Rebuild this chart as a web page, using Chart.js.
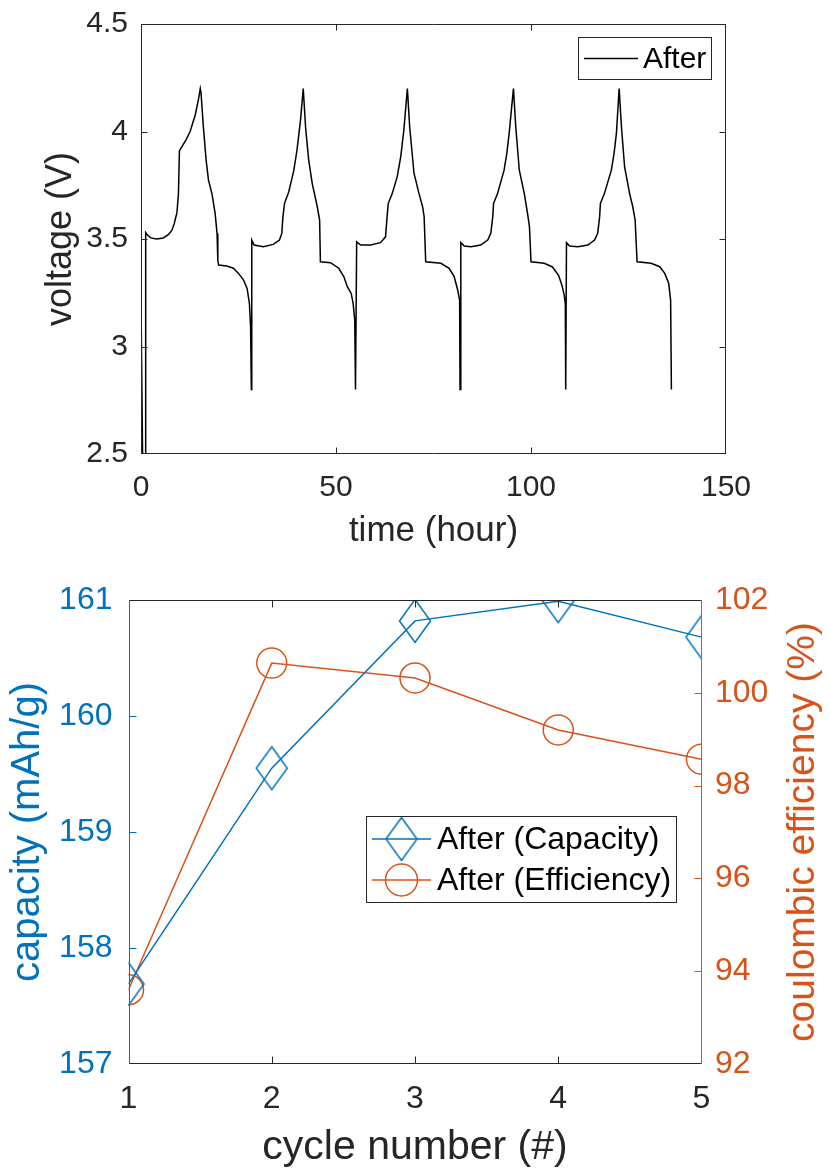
<!DOCTYPE html>
<html>
<head>
<meta charset="utf-8">
<script src="https://cdn.jsdelivr.net/npm/chart.js@4.4.1/dist/chart.umd.min.js"></script>
<style>
  html, body { margin: 0; padding: 0; background: #fff; }
  #wrap { position: relative; width: 830px; height: 1168px; }
  #voltageChart { position: absolute; left: 0; top: 0; }
  #cycleChart { position: absolute; left: 0; top: 560px; }
</style>
</head>
<body>
<div id="wrap">
  <canvas id="voltageChart" width="830" height="560"></canvas>
  <canvas id="cycleChart" width="830" height="608"></canvas>
</div>
<script>
// ---- voltage profile (time in hours, voltage in V) ----
const timeHours = [
  0, 0.4, 1.1, 1.2, 1.6, 2.5, 4.0, 5.7, 7.0, 7.9, 8.5, 8.9, 9.2, 9.6, 9.85, 10.5, 11.5, 12.6, 13.9, 14.7, 15.2,
  15.4, 16.0, 16.7, 17.3, 18.2, 19.0, 19.5, 19.7, 19.9, 22.0, 23.7, 25.0, 26.3, 27.2, 27.8, 28.1, 28.3,
  28.4, 29.0, 31.4, 33.9, 35.5, 36.1, 36.4, 36.8, 37.9, 39.2, 40.0, 40.9, 41.6,
  42.2, 43.0, 43.9, 45.2, 45.8, 46.0, 48.6, 50.7, 52.0, 52.9, 53.9, 54.4, 54.8, 55.0,
  55.3, 56.3, 58.9, 61.4, 62.7, 63.1, 63.4, 64.4, 65.7, 66.6, 67.4, 68.3,
  68.9, 70.0, 71.3, 72.2, 72.6, 73.0, 76.9, 79.0, 80.3, 81.2, 81.7, 81.8,
  82.0, 82.9, 84.6, 87.1, 88.9, 89.7, 90.2, 90.4, 91.4, 93.1, 93.8, 94.4, 95.5,
  96.1, 97.0, 98.3, 99.1, 99.6, 100.0, 103.4, 105.5, 107.1, 108.0, 108.5, 108.8, 108.9,
  109.1, 109.9, 112.0, 114.6, 116.3, 117.1, 117.6, 117.8, 118.8, 120.6, 121.3, 121.9, 122.6,
  123.2, 124.0, 125.3, 126.1, 126.7, 127.2, 130.8, 133.0, 134.3, 135.3, 135.8, 136.0
];
const voltage = [
  3.21, 2.50, 2.50, 3.53, 3.52, 3.505, 3.50, 3.505, 3.52, 3.54, 3.57, 3.60, 3.62, 3.71, 3.91, 3.93, 3.96, 4.00, 4.077, 4.146, 4.20,
  4.178, 4.02, 3.867, 3.774, 3.71, 3.62, 3.526, 3.40, 3.379, 3.374, 3.364, 3.34, 3.309, 3.27, 3.20, 3.092, 2.80,
  3.495, 3.472, 3.464, 3.475, 3.495, 3.526, 3.604, 3.666, 3.72, 3.82, 3.914, 4.053, 4.20,
  4.02, 3.867, 3.759, 3.65, 3.588, 3.394, 3.39, 3.364, 3.325, 3.278, 3.247, 3.20, 3.123, 2.80,
  3.487, 3.472, 3.472, 3.483, 3.51, 3.604, 3.666, 3.71, 3.79, 3.883, 4.007, 4.20,
  4.02, 3.806, 3.71, 3.65, 3.604, 3.394, 3.387, 3.364, 3.325, 3.263, 3.216, 2.80,
  3.483, 3.467, 3.464, 3.472, 3.495, 3.526, 3.604, 3.666, 3.71, 3.82, 3.898, 3.991, 4.20,
  4.02, 3.82, 3.71, 3.62, 3.558, 3.394, 3.387, 3.37, 3.33, 3.28, 3.24, 3.20, 2.80,
  3.483, 3.467, 3.464, 3.472, 3.495, 3.526, 3.604, 3.666, 3.71, 3.82, 3.898, 3.991, 4.20,
  4.02, 3.835, 3.71, 3.65, 3.588, 3.394, 3.387, 3.371, 3.34, 3.294, 3.216, 2.80
];
const timeTicks = [0, 50, 100, 150];
const voltageTicks = [2.5, 3, 3.5, 4, 4.5];

// ---- cycling summary ----
const cycleNumbers = [1, 2, 3, 4, 5];
const capacity = [157.69, 159.55, 160.82, 160.99, 160.68];
const efficiency = [93.6, 100.64, 100.32, 99.2, 98.57];
const capacityTicks = [157, 158, 159, 160, 161];
const efficiencyTicks = [92, 94, 96, 98, 100, 102];

const FONT = "'Liberation Sans', Arial, Helvetica, sans-serif";
const INK = '#262626';
const BLUE = '#0072BD';
const ORANGE = '#D95319';

// open diamond marker, taller than wide
function diamondMarker(color, hw, hh, lw) {
  const c = document.createElement('canvas');
  c.width = 2 * Math.ceil(hw + lw);
  c.height = 2 * Math.ceil(hh + lw);
  const g = c.getContext('2d');
  const cx = c.width / 2, cy = c.height / 2;
  g.strokeStyle = color;
  g.lineWidth = lw;
  g.beginPath();
  g.moveTo(cx, cy - hh);
  g.lineTo(cx + hw, cy);
  g.lineTo(cx, cy + hh);
  g.lineTo(cx - hw, cy);
  g.closePath();
  g.stroke();
  return c;
}
const diamond = diamondMarker(BLUE, 15.5, 21.5, 1.5);

// fixed axis thickness; layout padding alone places the plot box
function fixSize(size) {
  return s => {
    if (s.isHorizontal()) s.height = size; else s.width = size;
    s.paddingTop = 0; s.paddingBottom = 0; s.paddingLeft = 0; s.paddingRight = 0;
  };
}

// axes frame plus inward tick marks
const axesFrame = {
  id: 'axesFrame',
  afterDatasetsDraw(chart, args, opts) {
    const ctx = chart.ctx;
    const a = chart.chartArea;
    const L = Math.round(a.left) + 0.5, R = Math.round(a.right) - 0.5;
    const T = Math.round(a.top) + 0.5, B = Math.round(a.bottom) - 0.5;
    const len = opts.tickLen || 6;
    ctx.save();
    ctx.lineWidth = 1;
    (opts.ticks || []).forEach(spec => {
      const s = chart.scales[spec.scale];
      ctx.strokeStyle = spec.color;
      ctx.beginPath();
      s.ticks.forEach(t => {
        const p = Math.round(s.getPixelForValue(t.value)) + 0.5;
        if (spec.side === 'bottom') { if (p > L + 1 && p < R - 1) { ctx.moveTo(p, B); ctx.lineTo(p, B - len); } }
        if (spec.side === 'top') { if (p > L + 1 && p < R - 1) { ctx.moveTo(p, T); ctx.lineTo(p, T + len); } }
        if (spec.side === 'left') { if (p > T + 1 && p < B - 1) { ctx.moveTo(L, p); ctx.lineTo(L + len, p); } }
        if (spec.side === 'right') { if (p > T + 1 && p < B - 1) { ctx.moveTo(R, p); ctx.lineTo(R - len, p); } }
      });
      ctx.stroke();
    });
    const f = opts.frame;
    const seg = (color, x1, y1, x2, y2) => {
      ctx.strokeStyle = color; ctx.beginPath(); ctx.moveTo(x1, y1); ctx.lineTo(x2, y2); ctx.stroke();
    };
    seg(f.top, L - 0.5, T, R + 0.5, T);
    seg(f.bottom, L - 0.5, B, R + 0.5, B);
    seg(f.left, L, T - 0.5, L, B + 0.5);
    seg(f.right, R, T - 0.5, R, B + 0.5);
    ctx.restore();
  }
};

// boxed legend drawn inside the plot area
const boxedLegend = {
  id: 'boxedLegend',
  afterDraw(chart, args, opts) {
    const ctx = chart.ctx;
    const b = opts.box;
    ctx.save();
    ctx.fillStyle = '#fff';
    ctx.fillRect(b.x, b.y, b.w, b.h);
    ctx.strokeStyle = INK;
    ctx.lineWidth = 1;
    ctx.strokeRect(b.x + 0.5, b.y + 0.5, b.w - 1, b.h - 1);
    opts.rows.forEach(row => {
      const ds = chart.data.datasets[row.dataset];
      const y = row.y;
      ctx.strokeStyle = ds.borderColor;
      ctx.lineWidth = ds.borderWidth;
      ctx.beginPath();
      ctx.moveTo(opts.lineX1, y);
      ctx.lineTo(opts.lineX2, y);
      ctx.stroke();
      const mx = (opts.lineX1 + opts.lineX2) / 2;
      if (ds.pointStyle instanceof HTMLCanvasElement) {
        ctx.drawImage(ds.pointStyle, mx - ds.pointStyle.width / 2, y - ds.pointStyle.height / 2);
      } else if (ds.pointStyle === 'circle' && ds.pointRadius > 0) {
        ctx.beginPath();
        ctx.arc(mx, y, ds.pointRadius + 1, 0, Math.PI * 2);
        ctx.lineWidth = ds.pointBorderWidth;
        ctx.strokeStyle = ds.pointBorderColor;
        ctx.stroke();
      }
      ctx.fillStyle = '#000';
      ctx.font = opts.fontSize + 'px ' + FONT;
      ctx.textBaseline = 'middle';
      ctx.textAlign = 'left';
      ctx.fillText(ds.label, opts.textX, y + 1);
    });
    ctx.restore();
  }
};

// right-hand axis title reading bottom to top
const rightTitle = {
  id: 'rightTitle',
  afterDraw(chart, args, opts) {
    const ctx = chart.ctx;
    const a = chart.chartArea;
    ctx.save();
    ctx.translate(opts.x, (a.top + a.bottom) / 2);
    ctx.rotate(-Math.PI / 2);
    ctx.fillStyle = opts.color;
    ctx.font = opts.size + 'px ' + FONT;
    ctx.textAlign = 'center';
    ctx.textBaseline = 'middle';
    ctx.fillText(opts.text, 0, 0);
    ctx.restore();
  }
};

// ---- top: voltage vs time ----
new Chart(document.getElementById('voltageChart'), {
  type: 'line',
  data: {
    datasets: [{
      label: 'After',
      data: timeHours.map((t, i) => ({ x: t, y: voltage[i] })),
      borderColor: '#000',
      borderWidth: 1.5,
      pointRadius: 0,
      tension: 0,
      clip: 0
    }]
  },
  options: {
    responsive: false,
    animation: false,
    events: [],
    layout: { padding: { top: 24, right: 104, left: 0, bottom: 0 } },
    scales: {
      x: {
        type: 'linear',
        min: timeTicks[0], max: timeTicks[timeTicks.length - 1],
        afterBuildTicks: s => { s.ticks = timeTicks.map(v => ({ value: v })); },
        afterFit: fixSize(106),
        grid: { display: false, drawTicks: false },
        border: { display: false },
        ticks: { color: INK, padding: 16, autoSkip: false, maxRotation: 0, callback: v => String(v), font: { family: FONT, size: 30 } },
        title: { display: true, text: 'time (hour)', color: INK, padding: { top: 0, bottom: 8 }, font: { family: FONT, size: 35 } }
      },
      y: {
        min: voltageTicks[0], max: voltageTicks[voltageTicks.length - 1],
        afterBuildTicks: s => { s.ticks = voltageTicks.map(v => ({ value: v })); },
        afterFit: fixSize(141),
        grid: { display: false, drawTicks: false },
        border: { display: false },
        ticks: { color: INK, padding: 13, autoSkip: false, callback: v => String(v), font: { family: FONT, size: 30 } },
        title: { display: true, text: 'voltage (V)', color: INK, padding: { top: 39, bottom: 0 }, font: { family: FONT, size: 36 } }
      }
    },
    plugins: {
      legend: { display: false },
      tooltip: { enabled: false },
      axesFrame: {
        tickLen: 6,
        frame: { top: INK, bottom: INK, left: INK, right: INK },
        ticks: [
          { scale: 'x', side: 'bottom', color: INK },
          { scale: 'x', side: 'top', color: INK },
          { scale: 'y', side: 'left', color: INK },
          { scale: 'y', side: 'right', color: INK }
        ]
      },
      boxedLegend: {
        box: { x: 578, y: 37, w: 134, h: 43 },
        lineX1: 584, lineX2: 638, textX: 643, fontSize: 30,
        rows: [{ dataset: 0, y: 58.5 }]
      }
    }
  },
  plugins: [axesFrame, boxedLegend]
});

// ---- bottom: capacity and coulombic efficiency per cycle ----
new Chart(document.getElementById('cycleChart'), {
  type: 'line',
  data: {
    datasets: [
      {
        label: 'After (Capacity)',
        data: cycleNumbers.map((c, i) => ({ x: c, y: capacity[i] })),
        yAxisID: 'y',
        borderColor: BLUE,
        borderWidth: 1.5,
        pointStyle: diamond,
        pointRadius: 15,
        tension: 0,
        clip: 0
      },
      {
        label: 'After (Efficiency)',
        data: cycleNumbers.map((c, i) => ({ x: c, y: efficiency[i] })),
        yAxisID: 'y2',
        borderColor: ORANGE,
        borderWidth: 1.5,
        pointStyle: 'circle',
        pointRadius: 15,
        pointBorderWidth: 1.5,
        pointBorderColor: ORANGE,
        pointBackgroundColor: 'rgba(0,0,0,0)',
        tension: 0,
        clip: 0
      }
    ]
  },
  options: {
    responsive: false,
    animation: false,
    events: [],
    layout: { padding: { top: 40, right: 0, left: 0, bottom: 0 } },
    scales: {
      x: {
        type: 'linear',
        min: cycleNumbers[0], max: cycleNumbers[cycleNumbers.length - 1],
        afterBuildTicks: s => { s.ticks = cycleNumbers.map(v => ({ value: v })); },
        afterFit: fixSize(104),
        grid: { display: false, drawTicks: false },
        border: { display: false },
        ticks: { color: INK, padding: 16, autoSkip: false, maxRotation: 0, font: { family: FONT, size: 32 } },
        title: { display: true, text: 'cycle number (#)', color: INK, padding: { top: 0, bottom: 0 }, font: { family: FONT, size: 41, lineHeight: 1 } }
      },
      y: {
        position: 'left',
        min: capacityTicks[0], max: capacityTicks[capacityTicks.length - 1],
        afterBuildTicks: s => { s.ticks = capacityTicks.map(v => ({ value: v })); },
        afterFit: fixSize(128.5),
        grid: { display: false, drawTicks: false },
        border: { display: false },
        ticks: { color: BLUE, padding: 16, autoSkip: false, font: { family: FONT, size: 32 } },
        title: { display: true, text: 'capacity (mAh/g)', color: BLUE, padding: { top: 4, bottom: 0 }, font: { family: FONT, size: 40 } }
      },
      y2: {
        position: 'right',
        min: efficiencyTicks[0], max: efficiencyTicks[efficiencyTicks.length - 1],
        afterBuildTicks: s => { s.ticks = efficiencyTicks.map(v => ({ value: v })); },
        afterFit: fixSize(128.5),
        grid: { display: false, drawTicks: false },
        border: { display: false },
        ticks: { color: ORANGE, padding: 13.5, autoSkip: false, font: { family: FONT, size: 32 } },
        title: { display: false }
      }
    },
    plugins: {
      legend: { display: false },
      tooltip: { enabled: false },
      axesFrame: {
        tickLen: 7,
        frame: { top: INK, bottom: INK, left: BLUE, right: ORANGE },
        ticks: [
          { scale: 'x', side: 'bottom', color: INK },
          { scale: 'x', side: 'top', color: INK },
          { scale: 'y', side: 'left', color: BLUE },
          { scale: 'y2', side: 'right', color: ORANGE }
        ]
      },
      boxedLegend: {
        box: { x: 366, y: 256, w: 311, h: 87 },
        lineX1: 372, lineX2: 431, textX: 437, fontSize: 32,
        rows: [{ dataset: 0, y: 279 }, { dataset: 1, y: 320 }]
      },
      rightTitle: { text: 'coulombic efficiency (%)', color: ORANGE, size: 39, x: 803 }
    }
  },
  plugins: [axesFrame, boxedLegend, rightTitle]
});
</script>
</body>
</html>
